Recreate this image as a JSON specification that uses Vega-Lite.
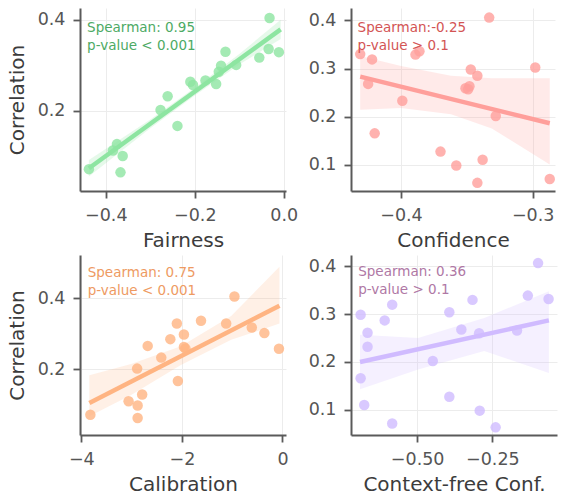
{
  "$schema": "https://vega.github.io/schema/vega-lite/v6.json",
  "padding": {"left": 7, "top": 8, "right": 5, "bottom": 5},
  "background": "white",
  "datasets": {
    "pts1": [
      {"x": -0.438, "y": 0.072}, {"x": -0.375, "y": 0.127}, {"x": -0.384, "y": 0.113}, {"x": -0.362, "y": 0.101},
      {"x": -0.367, "y": 0.065}, {"x": -0.277, "y": 0.202}, {"x": -0.261, "y": 0.232}, {"x": -0.239, "y": 0.167},
      {"x": -0.210, "y": 0.264}, {"x": -0.204, "y": 0.257}, {"x": -0.176, "y": 0.267}, {"x": -0.152, "y": 0.259},
      {"x": -0.146, "y": 0.286}, {"x": -0.141, "y": 0.299}, {"x": -0.131, "y": 0.330}, {"x": -0.107, "y": 0.301},
      {"x": -0.055, "y": 0.317}, {"x": -0.032, "y": 0.404}, {"x": -0.034, "y": 0.336}, {"x": -0.011, "y": 0.329}
    ],
    "band1": [
      {"x": -0.438, "lo": 0.056, "hi": 0.092}, {"x": -0.3, "lo": 0.162, "hi": 0.181},
      {"x": -0.2, "lo": 0.234, "hi": 0.251}, {"x": -0.1, "lo": 0.302, "hi": 0.325},
      {"x": -0.007, "lo": 0.358, "hi": 0.400}
    ],
    "fit1": [{"x": -0.438, "y": 0.074}, {"x": -0.007, "y": 0.379}],
    "pts2": [
      {"x": -0.431, "y": 0.330}, {"x": -0.422, "y": 0.319}, {"x": -0.425, "y": 0.268}, {"x": -0.420, "y": 0.165},
      {"x": -0.399, "y": 0.233}, {"x": -0.389, "y": 0.329}, {"x": -0.386, "y": 0.336}, {"x": -0.370, "y": 0.127},
      {"x": -0.358, "y": 0.098}, {"x": -0.351, "y": 0.259}, {"x": -0.348, "y": 0.263}, {"x": -0.349, "y": 0.257},
      {"x": -0.347, "y": 0.298}, {"x": -0.342, "y": 0.285}, {"x": -0.342, "y": 0.062}, {"x": -0.338, "y": 0.110},
      {"x": -0.333, "y": 0.406}, {"x": -0.328, "y": 0.201}, {"x": -0.298, "y": 0.302}, {"x": -0.287, "y": 0.070}
    ],
    "band2": [
      {"x": -0.431, "lo": 0.214, "hi": 0.326}, {"x": -0.400, "lo": 0.218, "hi": 0.305},
      {"x": -0.362, "lo": 0.205, "hi": 0.285}, {"x": -0.331, "lo": 0.175, "hi": 0.280},
      {"x": -0.287, "lo": 0.100, "hi": 0.280}
    ],
    "fit2": [{"x": -0.431, "y": 0.283}, {"x": -0.287, "y": 0.186}],
    "pts3": [
      {"x": -3.82, "y": 0.072}, {"x": -3.06, "y": 0.110}, {"x": -2.89, "y": 0.202}, {"x": -2.88, "y": 0.098},
      {"x": -2.88, "y": 0.063}, {"x": -2.79, "y": 0.129}, {"x": -2.68, "y": 0.266}, {"x": -2.41, "y": 0.233},
      {"x": -2.23, "y": 0.285}, {"x": -2.10, "y": 0.329}, {"x": -2.08, "y": 0.167}, {"x": -1.96, "y": 0.298},
      {"x": -1.96, "y": 0.263}, {"x": -1.93, "y": 0.259}, {"x": -1.62, "y": 0.337}, {"x": -1.12, "y": 0.329},
      {"x": -0.955, "y": 0.405}, {"x": -0.61, "y": 0.318}, {"x": -0.36, "y": 0.302}, {"x": -0.07, "y": 0.258}
    ],
    "band3": [
      {"x": -3.84, "lo": 0.068, "hi": 0.183}, {"x": -3.01, "lo": 0.128, "hi": 0.215},
      {"x": -2.02, "lo": 0.212, "hi": 0.265}, {"x": -1.02, "lo": 0.283, "hi": 0.350},
      {"x": -0.06, "lo": 0.329, "hi": 0.489}
    ],
    "fit3": [{"x": -3.84, "y": 0.105}, {"x": -0.06, "y": 0.379}],
    "pts4": [
      {"x": -0.688, "y": 0.299}, {"x": -0.665, "y": 0.261}, {"x": -0.665, "y": 0.232}, {"x": -0.688, "y": 0.166},
      {"x": -0.676, "y": 0.110}, {"x": -0.608, "y": 0.287}, {"x": -0.583, "y": 0.320}, {"x": -0.583, "y": 0.071},
      {"x": -0.448, "y": 0.202}, {"x": -0.393, "y": 0.304}, {"x": -0.393, "y": 0.127}, {"x": -0.353, "y": 0.268},
      {"x": -0.316, "y": 0.330}, {"x": -0.294, "y": 0.260}, {"x": -0.292, "y": 0.098}, {"x": -0.239, "y": 0.063},
      {"x": -0.168, "y": 0.266}, {"x": -0.132, "y": 0.339}, {"x": -0.098, "y": 0.407}, {"x": -0.063, "y": 0.332}
    ],
    "band4": [
      {"x": -0.690, "lo": 0.143, "hi": 0.257}, {"x": -0.497, "lo": 0.184, "hi": 0.250},
      {"x": -0.277, "lo": 0.223, "hi": 0.292}, {"x": -0.062, "lo": 0.177, "hi": 0.348}
    ],
    "fit4": [{"x": -0.690, "y": 0.200}, {"x": -0.062, "y": 0.287}]
  },
  "concat": [
    {
      "width": 206, "height": 183,
      "encoding": {
        "x": {"field": "x", "type": "quantitative", "title": "Fairness",
              "scale": {"domain": [-0.458, 0.005], "nice": false, "zero": false},
              "axis": {"values": [-0.4, -0.2, 0.0], "format": ".1f"}},
        "y": {"field": "y", "type": "quantitative", "title": "Correlation",
              "scale": {"domain": [0.024, 0.426], "nice": false, "zero": false},
              "axis": {"values": [0.2, 0.4], "format": ".1f"}}
      },
      "layer": [
        {"data": {"name": "band1"}, "mark": {"type": "area", "color": "#8de5a1", "opacity": 0.22},
         "encoding": {"y": {"field": "lo", "type": "quantitative", "title": "Correlation"}, "y2": {"field": "hi"}}},
        {"data": {"name": "pts1"}, "mark": {"type": "circle", "size": 110, "color": "#8de5a1", "opacity": 0.8}},
        {"data": {"name": "fit1"}, "mark": {"type": "line", "color": "#8de5a1", "strokeWidth": 4.5}},
        {"data": {"values": [{"x": -0.442, "y": 0.374, "t": "Spearman: 0.95\np-value < 0.001"}]},
         "mark": {"type": "text", "align": "left", "baseline": "alphabetic", "fontSize": 13.5, "lineBreak": "\n", "lineHeight": 18, "color": "#4daa64"},
         "encoding": {"text": {"field": "t"}}}
      ]
    },
    {
      "width": 204, "height": 183,
      "encoding": {
        "x": {"field": "x", "type": "quantitative", "title": "Confidence",
              "scale": {"domain": [-0.438, -0.283], "nice": false, "zero": false},
              "axis": {"values": [-0.4, -0.3], "format": ".1f"}},
        "y": {"field": "y", "type": "quantitative", "title": null,
              "scale": {"domain": [0.045, 0.426], "nice": false, "zero": false},
              "axis": {"values": [0.1, 0.2, 0.3, 0.4], "format": ".1f"}}
      },
      "layer": [
        {"data": {"name": "band2"}, "mark": {"type": "area", "color": "#ff9f9b", "opacity": 0.22},
         "encoding": {"y": {"field": "lo", "type": "quantitative", "title": null}, "y2": {"field": "hi"}}},
        {"data": {"name": "pts2"}, "mark": {"type": "circle", "size": 110, "color": "#ff9f9b", "opacity": 0.8}},
        {"data": {"name": "fit2"}, "mark": {"type": "line", "color": "#ff9f9b", "strokeWidth": 4.5}},
        {"data": {"values": [{"x": -0.433, "y": 0.376, "t": "Spearman:-0.25\np-value > 0.1"}]},
         "mark": {"type": "text", "align": "left", "baseline": "alphabetic", "fontSize": 13.5, "lineBreak": "\n", "lineHeight": 18, "color": "#d35454"},
         "encoding": {"text": {"field": "t"}}}
      ]
    },
    {
      "width": 206, "height": 180,
      "encoding": {
        "x": {"field": "x", "type": "quantitative", "title": "Calibration",
              "scale": {"domain": [-4.026, 0.07], "nice": false, "zero": false},
              "axis": {"values": [-4, -2, 0], "format": "d"}},
        "y": {"field": "y", "type": "quantitative", "title": "Correlation",
              "scale": {"domain": [0.015, 0.522], "nice": false, "zero": false},
              "axis": {"values": [0.2, 0.4], "format": ".1f"}}
      },
      "layer": [
        {"data": {"name": "band3"}, "mark": {"type": "area", "color": "#ffb482", "opacity": 0.2},
         "encoding": {"y": {"field": "lo", "type": "quantitative", "title": "Correlation"}, "y2": {"field": "hi"}}},
        {"data": {"name": "pts3"}, "mark": {"type": "circle", "size": 110, "color": "#ffb482", "opacity": 0.8}},
        {"data": {"name": "fit3"}, "mark": {"type": "line", "color": "#ffb482", "strokeWidth": 4.5}},
        {"data": {"values": [{"x": -3.873, "y": 0.461, "t": "Spearman: 0.75\np-value < 0.001"}]},
         "mark": {"type": "text", "align": "left", "baseline": "alphabetic", "fontSize": 13.5, "lineBreak": "\n", "lineHeight": 18, "color": "#ee9a62"},
         "encoding": {"text": {"field": "t"}}}
      ]
    },
    {
      "width": 206, "height": 180,
      "encoding": {
        "x": {"field": "x", "type": "quantitative", "title": "Context-free Conf.",
              "scale": {"domain": [-0.72, -0.035], "nice": false, "zero": false},
              "axis": {"values": [-0.5, -0.25], "format": ".2f"}},
        "y": {"field": "y", "type": "quantitative", "title": null,
              "scale": {"domain": [0.047, 0.424], "nice": false, "zero": false},
              "axis": {"values": [0.1, 0.2, 0.3, 0.4], "format": ".1f"}}
      },
      "layer": [
        {"data": {"name": "band4"}, "mark": {"type": "area", "color": "#d0bbff", "opacity": 0.22},
         "encoding": {"y": {"field": "lo", "type": "quantitative", "title": null}, "y2": {"field": "hi"}}},
        {"data": {"name": "pts4"}, "mark": {"type": "circle", "size": 110, "color": "#d0bbff", "opacity": 0.8}},
        {"data": {"name": "fit4"}, "mark": {"type": "line", "color": "#d0bbff", "strokeWidth": 4.5}},
        {"data": {"values": [{"x": -0.696, "y": 0.381, "t": "Spearman: 0.36\np-value > 0.1"}]},
         "mark": {"type": "text", "align": "left", "baseline": "alphabetic", "fontSize": 13.5, "lineBreak": "\n", "lineHeight": 18, "color": "#af78a5"},
         "encoding": {"text": {"field": "t"}}}
      ]
    }
  ],
  "columns": 2,
  "spacing": {"row": 64, "column": 65},
  "bounds": "flush",
  "config": {
    "font": "DejaVu Sans",
    "view": {"stroke": null},
    "axis": {
      "domainColor": "#5a5a5a",
      "domainWidth": 2,
      "tickColor": "#5a5a5a",
      "tickWidth": 1.8,
      "tickSize": 7,
      "labelFontSize": 17.5,
      "labelColor": "#555555",
      "titleFontSize": 20,
      "titleFontWeight": "normal",
      "titleColor": "#3c3c3c",
      "gridColor": "#ececec",
      "gridWidth": 1,
      "labelFlush": false,
      "labelOverlap": false
    },
    "axisX": {"labelPadding": 8, "titlePadding": 7},
    "axisY": {"labelPadding": 8, "titlePadding": 10}
  }
}
